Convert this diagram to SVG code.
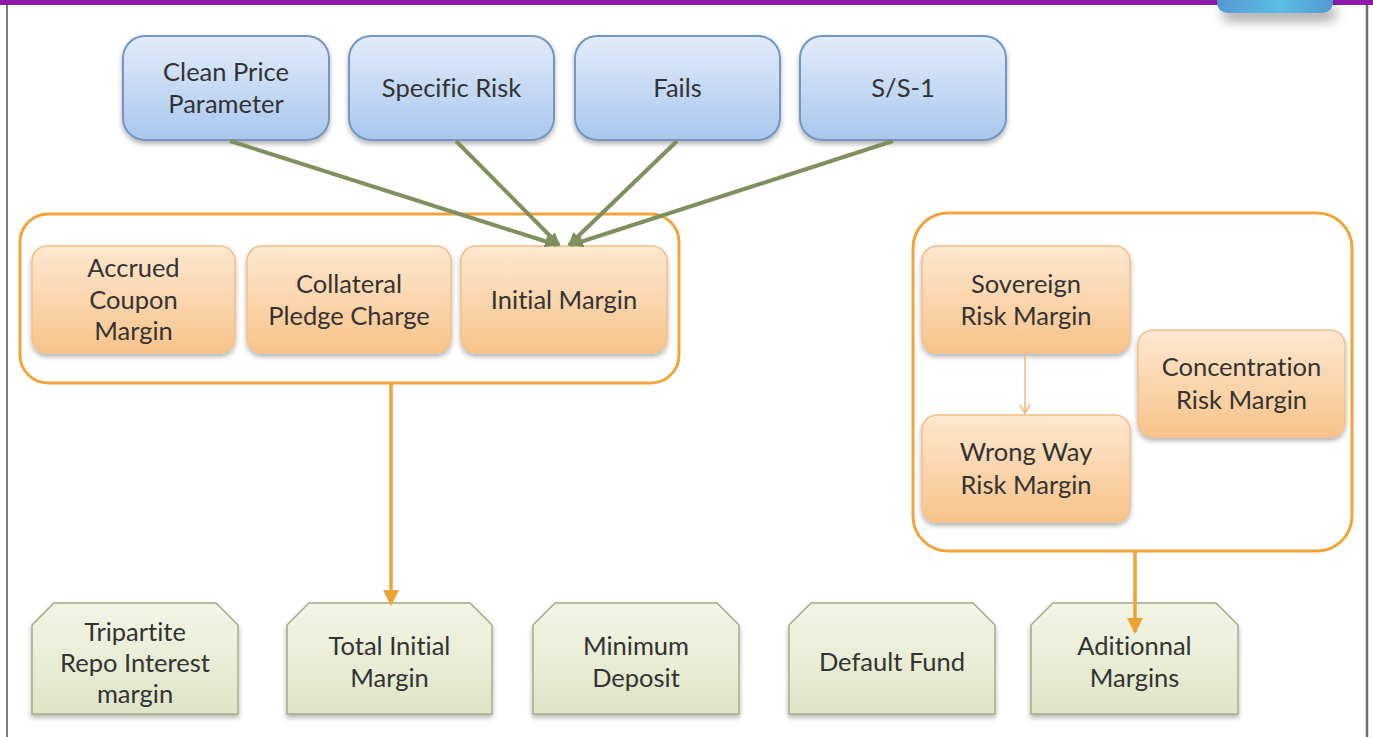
<svg xmlns="http://www.w3.org/2000/svg" width="1373" height="737" viewBox="0 0 1373 737">
  <style>
    .lbl { font-family: Lato, "Open Sans", "Liberation Sans", sans-serif; font-size: 25.5px; fill: #333333; text-anchor: middle; font-variant-ligatures: none; }
    .blue { fill: url(#gBlue); stroke: #7396c2; stroke-width: 2; filter: url(#shadow); }
    .orange { fill: url(#gOrange); stroke: #f2c08a; stroke-width: 1.5; filter: url(#shadow); }
    .green { fill: url(#gGreen); stroke: #a3ac8a; stroke-width: 1.5; filter: url(#shadow); }
    .group { fill: none; stroke: #f2a43a; stroke-width: 3; }
    .feed { stroke: #7f8f5e; stroke-width: 4; fill: none; marker-end: url(#headOlive); }
    .flow { stroke: #f0a232; stroke-width: 3.5; fill: none; marker-end: url(#headOrange); }
  </style>
  <defs>
    <linearGradient id="gBlue" x1="0" y1="0" x2="0" y2="1">
      <stop offset="0" stop-color="#e2ecfa"/>
      <stop offset="1" stop-color="#a9c7ee"/>
    </linearGradient>
    <linearGradient id="gOrange" x1="0" y1="0" x2="0" y2="1">
      <stop offset="0" stop-color="#fde8d0"/>
      <stop offset="1" stop-color="#f8c38a"/>
    </linearGradient>
    <linearGradient id="gGreen" x1="0" y1="0" x2="0" y2="1">
      <stop offset="0" stop-color="#f3f5e6"/>
      <stop offset="1" stop-color="#dfe5c6"/>
    </linearGradient>
    <linearGradient id="gTab" x1="0" y1="0" x2="1" y2="0">
      <stop offset="0" stop-color="#5598d2"/>
      <stop offset="0.55" stop-color="#5bbde2"/>
      <stop offset="1" stop-color="#5598d2"/>
    </linearGradient>
    <filter id="shadow" x="-10%" y="-10%" width="120%" height="130%">
      <feDropShadow dx="0" dy="3" stdDeviation="2.5" flood-color="#000" flood-opacity="0.3"/>
    </filter>
    <filter id="tabShadow" x="-30%" y="-50%" width="160%" height="300%">
      <feDropShadow dx="4" dy="8" stdDeviation="6" flood-color="#000" flood-opacity="0.35"/>
    </filter>
    <marker id="headOlive" markerUnits="userSpaceOnUse" markerWidth="14" markerHeight="14" viewBox="0 0 14 14" refX="12" refY="7" orient="auto">
      <path d="M0,1 L14,7 L0,13 Z" fill="#7f8f5e"/>
    </marker>
    <marker id="headOrange" markerUnits="userSpaceOnUse" markerWidth="16" markerHeight="16" viewBox="0 0 16 16" refX="14" refY="8" orient="auto">
      <path d="M0,0 L16,8 L0,16 Z" fill="#f0a232"/>
    </marker>
  </defs>

  <!-- page frame -->
  <rect x="0" y="0" width="1373" height="737" fill="#ffffff"/>
  <rect x="0" y="0" width="1373" height="5" fill="#8d1aa8"/>
  <line x1="7" y1="5" x2="7" y2="737" stroke="#555" stroke-width="1.5"/>
  <line x1="1367" y1="5" x2="1367" y2="737" stroke="#6d6d6d" stroke-width="2.5"/>
  <path d="M1217,0 H1333 V1 Q1333,13 1321,13 H1229 Q1217,13 1217,1 Z" fill="url(#gTab)" filter="url(#tabShadow)"/>

  <!-- group outlines -->
  <rect class="group" x="20" y="214" width="659" height="169" rx="28"/>
  <rect class="group" x="913" y="213" width="439" height="338" rx="35"/>

  <!-- input parameters -->
  <g id="clean-price">
    <rect class="blue" x="123" y="36" width="206" height="104" rx="22"/>
    <text class="lbl" x="226" y="81">Clean Price</text>
    <text class="lbl" x="226" y="113">Parameter</text>
  </g>
  <g id="specific-risk">
    <rect class="blue" x="349" y="36" width="205" height="104" rx="22"/>
    <text class="lbl" x="451.5" y="97">Specific Risk</text>
  </g>
  <g id="fails">
    <rect class="blue" x="575" y="36" width="205" height="104" rx="22"/>
    <text class="lbl" x="677.5" y="97">Fails</text>
  </g>
  <g id="ss1">
    <rect class="blue" x="800" y="36" width="206" height="104" rx="22"/>
    <text class="lbl" x="903" y="97">S/S-1</text>
  </g>

  <!-- initial margin components -->
  <g id="accrued-coupon">
    <rect class="orange" x="32" y="246" width="203" height="107" rx="15"/>
    <text class="lbl" x="133.5" y="277">Accrued</text>
    <text class="lbl" x="133.5" y="309">Coupon</text>
    <text class="lbl" x="133.5" y="340">Margin</text>
  </g>
  <g id="collateral-pledge">
    <rect class="orange" x="247" y="246" width="204" height="107" rx="15"/>
    <text class="lbl" x="349" y="293">Collateral</text>
    <text class="lbl" x="349" y="325">Pledge Charge</text>
  </g>
  <g id="initial-margin">
    <rect class="orange" x="461" y="246" width="206" height="107" rx="15"/>
    <text class="lbl" x="564" y="309">Initial Margin</text>
  </g>

  <!-- additional margin components -->
  <g id="sovereign-risk">
    <rect class="orange" x="922" y="246" width="208" height="107" rx="15"/>
    <text class="lbl" x="1026" y="293">Sovereign</text>
    <text class="lbl" x="1026" y="325">Risk Margin</text>
  </g>
  <g id="wrong-way-risk">
    <rect class="orange" x="922" y="415" width="208" height="107" rx="15"/>
    <text class="lbl" x="1026" y="461">Wrong Way</text>
    <text class="lbl" x="1026" y="494">Risk Margin</text>
  </g>
  <g id="concentration-risk">
    <rect class="orange" x="1138" y="330" width="207" height="107" rx="15"/>
    <text class="lbl" x="1241.5" y="376">Concentration</text>
    <text class="lbl" x="1241.5" y="409">Risk Margin</text>
  </g>

  <!-- totals -->
  <g id="tripartite-repo">
    <path class="green" d="M54,603 H216 L238,625 V714 H32 V625 Z"/>
    <text class="lbl" x="135" y="641">Tripartite</text>
    <text class="lbl" x="135" y="672">Repo Interest</text>
    <text class="lbl" x="135" y="703">margin</text>
  </g>
  <g id="total-initial-margin">
    <path class="green" d="M309,603 H470 L492,625 V714 H287 V625 Z"/>
    <text class="lbl" x="389.5" y="655">Total Initial</text>
    <text class="lbl" x="389.5" y="687">Margin</text>
  </g>
  <g id="minimum-deposit">
    <path class="green" d="M555,603 H717 L739,625 V714 H533 V625 Z"/>
    <text class="lbl" x="636" y="655">Minimum</text>
    <text class="lbl" x="636" y="687">Deposit</text>
  </g>
  <g id="default-fund">
    <path class="green" d="M811,603 H973 L995,625 V714 H789 V625 Z"/>
    <text class="lbl" x="892" y="671">Default Fund</text>
  </g>
  <g id="additional-margins">
    <path class="green" d="M1053,603 H1216 L1238,625 V714 H1031 V625 Z"/>
    <text class="lbl" x="1134.5" y="655">Aditionnal</text>
    <text class="lbl" x="1134.5" y="687">Margins</text>
  </g>

  <!-- connectors -->
  <g id="connectors">
    <line class="feed" x1="230" y1="141" x2="557" y2="245"/>
    <line class="feed" x1="456" y1="141" x2="559" y2="245"/>
    <line class="feed" x1="677" y1="141" x2="569" y2="245"/>
    <line class="feed" x1="893" y1="141" x2="571" y2="245"/>
    <line class="flow" x1="391" y1="384" x2="391" y2="604"/>
    <line class="flow" x1="1135" y1="552" x2="1135" y2="632"/>
    <line x1="1025" y1="354" x2="1025" y2="413" stroke="#f4b870" stroke-width="1.5"/>
    <polyline points="1020,405 1025,413 1030,405" fill="none" stroke="#f4b870" stroke-width="1.5"/>
  </g>
</svg>
